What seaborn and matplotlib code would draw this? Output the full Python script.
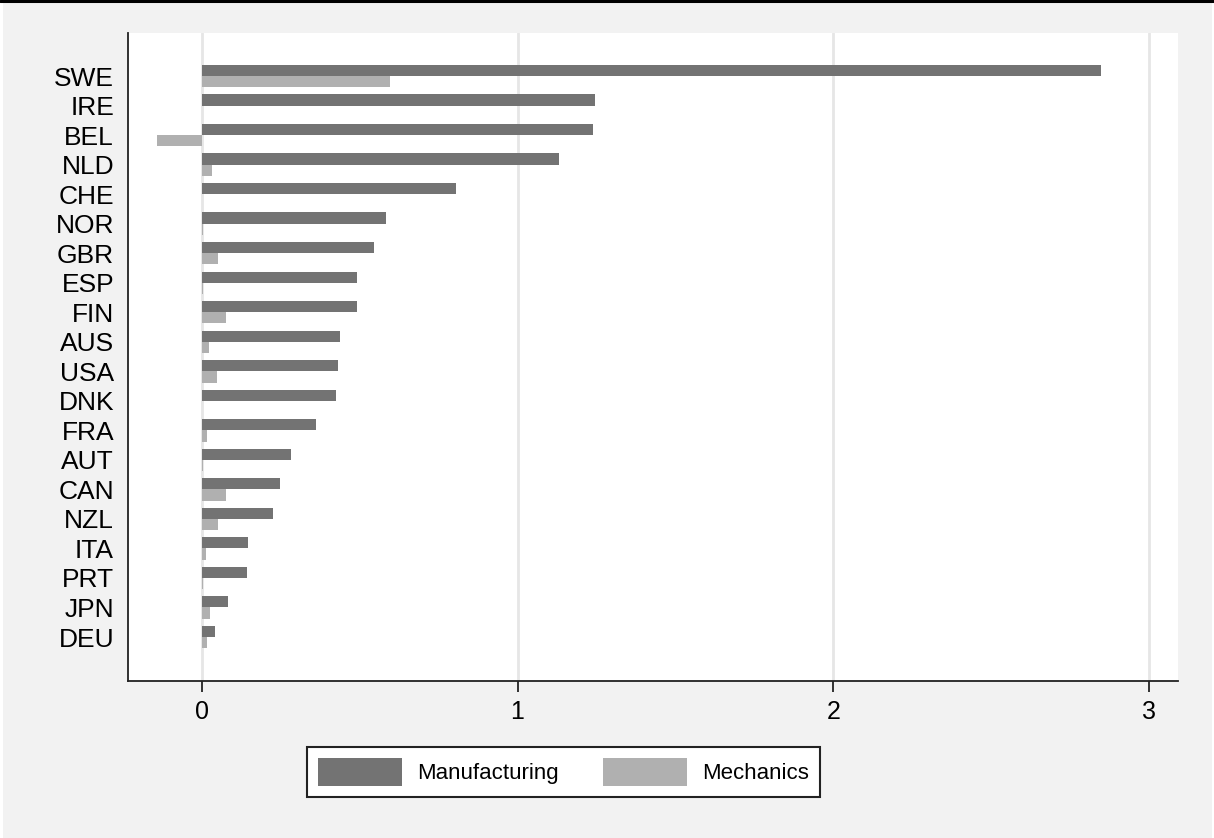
#!/usr/bin/env python3
# coding=utf-8
"""Horizontal bar chart: manufacturing vs mechanics by country."""
from matplotlib import pyplot as plt
from matplotlib.patches import Rectangle, Patch
from matplotlib.lines import Line2D
import pandas as pd
import seaborn as sns

countries = ["SWE", "IRE", "BEL", "NLD", "CHE", "NOR", "GBR", "ESP", "FIN",
             "AUS", "USA", "DNK", "FRA", "AUT", "CAN", "NZL", "ITA", "PRT",
             "JPN", "DEU"]
manufacturing = [2.849, 1.244, 1.240, 1.130, 0.806, 0.582, 0.547, 0.492,
                 0.492, 0.437, 0.432, 0.425, 0.362, 0.282, 0.247, 0.226,
                 0.147, 0.143, 0.083, 0.043]
mechanics = [0.596, 0.0, -0.141, 0.034, 0.0, 0.004, 0.052, 0.004, 0.077,
             0.023, 0.047, 0.0, 0.017, 0.004, 0.077, 0.052, 0.014, 0.003,
             0.027, 0.017]
series = ["Manufacturing", "Mechanics"]
colors = ["#737373", "#b0b0b0"]
xticks = [0, 1, 2, 3]

df = pd.DataFrame({
    "country": countries * 2,
    "value": manufacturing + mechanics,
    "sector": [series[0]] * len(countries) + [series[1]] * len(countries),
})

sns.set_style("white")
plt.rcParams["font.family"] = ["Liberation Sans", "DejaVu Sans"]
plt.rcParams["text.color"] = "black"

fig = plt.figure(figsize=(12.14, 8.38), dpi=100, facecolor="white")
# Stata-like grey outer region with thin black top edge
fig.patches.append(Rectangle((3 / 1214, 0), 1209 / 1214, 835 / 838,
                             transform=fig.transFigure, facecolor="#f2f2f2",
                             edgecolor="none", zorder=-10))
fig.add_artist(Line2D([0, 1], [1 - 1.5 / 838, 1 - 1.5 / 838], color="black",
                      lw=2.2, transform=fig.transFigure))

ax = fig.add_axes([128 / 1214, 1 - 681 / 838, 1050 / 1214, 648 / 838])
ax.set_facecolor("white")

sns.barplot(data=df, y="country", x="value", hue="sector", orient="h",
            order=countries, hue_order=series, palette=colors, width=0.76,
            linewidth=0, legend=False, ax=ax)

ax.set_xlim(-0.2334, 3.0915)
ax.set_ylim(20.49, -1.46)
ax.set_xticks(xticks)
ax.set_xticklabels([str(t) for t in xticks], fontsize=18, color="black")
ax.set_yticks(range(len(countries)))
ax.set_yticklabels(countries, fontsize=19, color="black")
ax.set_xlabel("")
ax.set_ylabel("")

ax.grid(axis="x", color="#e6e6e6", lw=2)
ax.grid(axis="y", visible=False)
ax.set_axisbelow(True)

for side in ["top", "right"]:
    ax.spines[side].set_visible(False)
for side in ["left", "bottom"]:
    ax.spines[side].set_color("#222222")
    ax.spines[side].set_linewidth(1.3)

ax.tick_params(axis="x", length=8, width=1.3, color="#222222", pad=6,
               bottom=True)
ax.tick_params(axis="y", length=0, pad=10)

handles = [Patch(facecolor=c, edgecolor="none") for c in colors]
leg = fig.legend(handles, series, loc="center",
                 bbox_to_anchor=(563.5 / 1214, 1 - 772 / 838), ncol=2,
                 fontsize=16, frameon=True, fancybox=False,
                 handlelength=3.8, handleheight=1.55, handletextpad=0.68,
                 columnspacing=1.95, borderpad=0.5, borderaxespad=0)
leg.get_frame().set_edgecolor("#222222")
leg.get_frame().set_linewidth(1.5)
leg.get_frame().set_facecolor("white")
leg.get_frame().set_alpha(1)

fig.savefig("out.png", dpi=100, facecolor=fig.get_facecolor())
